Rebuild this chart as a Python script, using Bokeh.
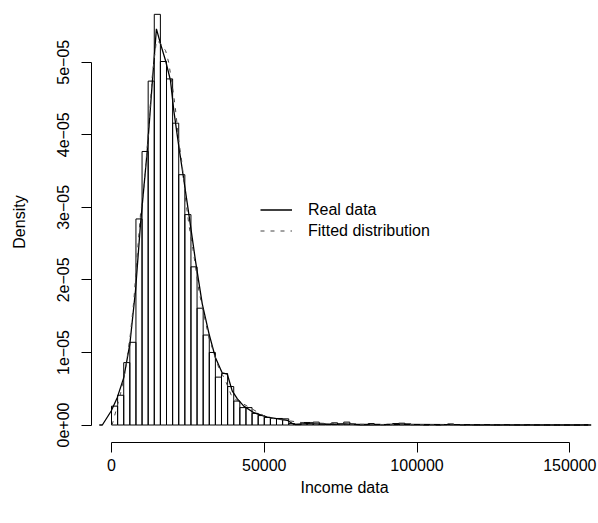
from bokeh.plotting import figure
from bokeh.models import Range1d, FixedTicker, Legend, LegendItem, CustomJSTickFormatter
from bokeh.embed import file_html
from bokeh.resources import INLINE

# Histogram: breaks every 2000 from 0 to 156000
bin_left = [2000 * k for k in range(78)]
bin_right = [2000 * (k + 1) for k in range(78)]
density = [
    2.6e-6, 4.1e-6, 8.6e-6, 1.14e-5, 2.84e-5, 3.77e-5, 4.74e-5, 5.66e-5, 5.01e-5, 4.77e-5,
    4.16e-5, 3.45e-5, 2.90e-5, 2.18e-5, 1.61e-5, 1.24e-5, 1.00e-5, 6.6e-6, 7.1e-6, 5.3e-6,
    3.3e-6, 2.4e-6, 2.4e-6, 1.6e-6, 1.3e-6, 1.05e-6, 0.9e-6, 0.9e-6, 0.85e-6, 0.2e-6,
    0.05e-6, 0.35e-6, 0.35e-6, 0.4e-6, 0.15e-6, 0.1e-6, 0.3e-6, 0.15e-6, 0.4e-6, 0.15e-6,
    0.1e-6, 0.1e-6, 0.2e-6, 0.1e-6, 0.05e-6, 0.1e-6, 0.2e-6, 0.25e-6, 0.15e-6, 0.05e-6,
    0.05e-6, 0.0, 0.05e-6, 0.0, 0.05e-6, 0.15e-6, 0.05e-6, 0.0, 0.03e-6, 0.0,
    0.0, 0.03e-6, 0.0, 0.0, 0.03e-6, 0.0, 0.0, 0.0, 0.03e-6, 0.0,
    0.0, 0.0, 0.0, 0.0, 0.0, 0.0, 0.0, 0.03e-6,
]

# Kernel density of the real data
real_x = [-4000, -3000, -100, 1870, 4020, 5990, 7850, 9490, 11700, 13400, 14700, 16000,
          17700, 19300, 20400, 22100, 23700, 25300, 27500, 29700, 31900, 34000, 36200,
          37900, 39500, 41200, 43300, 46600, 51000, 57500, 59600, 64000, 72600, 76600,
          81500, 94600, 111000, 127000, 155000, 157000]
real_y = [0.0, 0.0, 1.93e-6, 3.77e-6, 6.53e-6, 1.11e-5, 1.85e-5, 2.77e-5, 3.78e-5, 4.75e-5,
          5.46e-5, 5.26e-5, 5.02e-5, 4.75e-5, 4.33e-5, 3.82e-5, 3.37e-5, 2.91e-5, 2.26e-5,
          1.67e-5, 1.26e-5, 9.3e-6, 7.2e-6, 7.0e-6, 4.7e-6, 3.6e-6, 2.6e-6, 1.7e-6, 1.1e-6,
          0.65e-6, 0.1e-6, 0.18e-6, 0.1e-6, 0.15e-6, 0.03e-6, 0.07e-6, 0.04e-6, 0.01e-6,
          0.0, 0.0]

# Fitted distribution
fit_x = [200, 2950, 4600, 6200, 7300, 8400, 9500, 10600, 12200, 13300, 14700, 16000,
         17700, 18700, 19800, 20900, 22000, 23100, 24200, 25300, 26900, 28600, 31900,
         35100, 37300, 39500, 43200, 51000, 62000, 78000, 111000, 155000]
fit_y = [0.0, 4.3e-6, 7.7e-6, 1.26e-5, 1.71e-5, 2.33e-5, 2.91e-5, 3.27e-5, 4.10e-5, 4.79e-5,
         5.30e-5, 5.26e-5, 5.16e-5, 5.0e-5, 4.71e-5, 4.37e-5, 3.92e-5, 3.60e-5, 3.13e-5,
         2.77e-5, 2.36e-5, 1.85e-5, 1.20e-5, 7.9e-6, 6.1e-6, 3.8e-6, 2.9e-6, 1.0e-6,
         0.35e-6, 0.1e-6, 0.02e-6, 0.0]

x_ticks = [0, 50000, 100000, 150000]
x_labels = ["0", "50000", "100000", "150000"]
y_ticks = [0.0, 1e-5, 2e-5, 3e-5, 4e-5, 5e-5]
y_labels = ["0e+00", "1e\u221205", "2e\u221205", "3e\u221205", "4e\u221205", "5e\u221205"]

FONT = "Liberation Sans"

p = figure(width=598, height=523, output_backend="svg", toolbar_location=None,
           x_range=Range1d(-6546, 159057), y_range=Range1d(-2.41e-6, 5.837e-5),
           min_border_left=91, min_border_right=1, min_border_top=1, min_border_bottom=81)
p.outline_line_color = None
p.grid.visible = False
p.background_fill_color = "white"
p.border_fill_color = "white"

p.quad(left=bin_left, right=bin_right, top=density, bottom=0,
       fill_alpha=0, line_color="black", line_width=1)
solid = p.line(real_x, real_y, line_color="black", line_width=1.3)
dotted = p.line(fit_x, fit_y, line_color="#444444", line_width=1, line_dash="4 6")

fmt_js = """
let best = 0, bd = Infinity;
for (let i = 0; i < ticks_list.length; i++) {
  const d = Math.abs(ticks_list[i] - tick);
  if (d < bd) { bd = d; best = i; }
}
return labels_list[best];
"""

for ax, ticks, labels, bounds in ((p.xaxis[0], x_ticks, x_labels, (0, 150000)),
                                  (p.yaxis[0], y_ticks, y_labels, (0, 5e-5))):
    ax.ticker = FixedTicker(ticks=ticks)
    ax.formatter = CustomJSTickFormatter(args=dict(ticks_list=ticks, labels_list=labels),
                                         code=fmt_js)
    ax.bounds = bounds
    ax.minor_tick_line_color = None
    ax.major_tick_in = 0
    ax.major_tick_out = 10
    ax.axis_line_color = "black"
    ax.major_tick_line_color = "black"
    ax.major_label_text_font = FONT
    ax.major_label_text_font_size = "16px"
    ax.major_label_text_color = "black"
    ax.axis_label_text_font = FONT
    ax.axis_label_text_font_size = "16px"
    ax.axis_label_text_font_style = "normal"
    ax.axis_label_text_color = "black"

p.xaxis.axis_label = "Income data"
p.yaxis.axis_label = "Density"
p.xaxis.major_label_standoff = 6
p.xaxis.axis_label_standoff = 5
p.yaxis.major_label_orientation = "vertical"
p.yaxis.major_label_standoff = 12
p.yaxis.axis_label_standoff = 27

legend = Legend(items=[LegendItem(label="Real data", renderers=[solid]),
                       LegendItem(label="Fitted distribution", renderers=[dotted])],
                location=(169, 201))
legend.border_line_color = None
legend.background_fill_alpha = 0
legend.padding = 0
legend.margin = 0
legend.spacing = 0
legend.glyph_width = 32
legend.glyph_height = 21
legend.label_height = 21
legend.label_standoff = 16
legend.label_text_font = FONT
legend.label_text_font_size = "16px"
legend.label_text_color = "black"
p.add_layout(legend)

open("out.html", "w").write(file_html(p, INLINE))
